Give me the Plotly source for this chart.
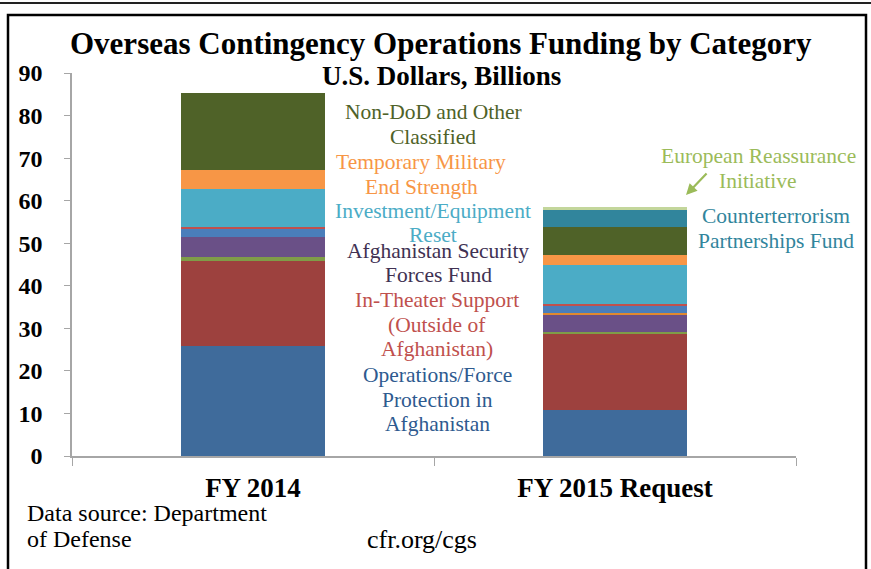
import plotly.graph_objects as go

categories = ["FY 2014", "FY 2015 Request"]

# Stack order bottom -> top
ops_force_protection = [25.9, 10.8]
in_theater_support = [20.0, 18.1]
other_green = [0.9, 0.3]
afghan_security_forces = [4.6, 4.1]
other_orange = [0.0, 0.3]
other_blue = [1.9, 1.6]
other_red = [0.5, 0.6]
investment_reset = [9.0, 9.2]
temporary_end_strength = [4.5, 2.3]
non_dod_classified = [17.9, 6.5]
counterterrorism_fund = [0.0, 3.9]
european_reassurance = [0.0, 0.8]

series = [
    ("Operations/Force Protection in Afghanistan", ops_force_protection, "#3F6B9B"),
    ("In-Theater Support (Outside of Afghanistan)", in_theater_support, "#9D413E"),
    ("Other (green)", other_green, "#7F9C48"),
    ("Afghanistan Security Forces Fund", afghan_security_forces, "#6A5087"),
    ("Other (orange)", other_orange, "#E0892F"),
    ("Other (blue)", other_blue, "#4A7EBB"),
    ("Other (red)", other_red, "#C0504D"),
    ("Investment/Equipment Reset", investment_reset, "#4BACC6"),
    ("Temporary Military End Strength", temporary_end_strength, "#F79646"),
    ("Non-DoD and Other Classified", non_dod_classified, "#4F6228"),
    ("Counterterrorism Partnerships Fund", counterterrorism_fund, "#31859C"),
    ("European Reassurance Initiative", european_reassurance, "#C3D69B"),
]

W, H = 871, 569
L, R, T, B = 72, 796, 73, 456

def px(x):
    return (x - L) / (R - L)

def py(y):
    return (B - y) / (B - T)

fig = go.Figure()
for name, vals, color in series:
    fig.add_trace(go.Bar(x=categories, y=vals, name=name,
                         marker=dict(color=color, line=dict(width=0)),
                         width=0.4))

serif = "Liberation Serif"
ann = []

def text(x, y, t, color, size=21.5, bold=False, xanchor="center", yanchor="middle"):
    ann.append(dict(x=px(x), y=py(y), xref="paper", yref="paper", text=t,
                    showarrow=False, xanchor=xanchor, yanchor=yanchor,
                    borderpad=0, borderwidth=0,
                    font=dict(family=serif, size=size, color=color,
                              weight="bold" if bold else "normal")))

def block(x, y0, lines, color, size=21.5, step=24.5):
    for i, ln in enumerate(lines):
        text(x, y0 + i * step, ln, color, size=size)

text(441, 43, "Overseas Contingency Operations Funding by Category", "#000000", size=31, bold=True)
text(441, 76, "U.S. Dollars, Billions", "#000000", size=27, bold=True)

block(433, 112, ["Non-DoD and Other", "Classified"], "#4F6228")
block(421, 162, ["Temporary Military", "End Strength"], "#F79646")
block(433, 211, ["Investment/Equipment", "Reset"], "#4BACC6", step=23.5)
block(438, 251, ["Afghanistan Security", "Forces Fund"], "#403152", step=23.5)
block(437, 300, ["In-Theater Support", "(Outside of", "Afghanistan)"], "#C0504D")
block(437, 375, ["Operations/Force", "Protection in", "Afghanistan"], "#2E5A8F")
block(758, 156, ["European Reassurance", "Initiative"], "#9BBB59")
block(776, 216, ["Counterterrorism", "Partnerships Fund"], "#31859C")

text(27, 513, "Data source: Department", "#000000", size=24, xanchor="left")
text(27, 539, "of Defense", "#000000", size=24, xanchor="left")
text(367, 539, "cfr.org/cgs", "#000000", size=26, xanchor="left")

# arrow for European Reassurance Initiative
ann.append(dict(x=px(686), y=py(195), xref="paper", yref="paper", text="",
                showarrow=True, ax=22, ay=-23, arrowcolor="#9BBB59",
                arrowwidth=2.2, arrowhead=2, arrowsize=1))

shapes = [
    dict(type="line", xref="paper", yref="paper", x0=px(0), x1=px(871), y0=py(3), y1=py(3),
         line=dict(color="#222222", width=2)),
    dict(type="rect", xref="paper", yref="paper", x0=px(8), x1=px(866), y0=py(15), y1=py(590),
         line=dict(color="#000000", width=2.5)),
]

fig.update_layout(
    width=W, height=H, barmode="stack", showlegend=False,
    margin=dict(l=L, r=W - R, t=T, b=H - B, pad=0, autoexpand=False),
    plot_bgcolor="white", paper_bgcolor="white",
    annotations=ann, shapes=shapes, bargap=0.6,
    font=dict(family=serif, color="#000000"),
)
fig.update_xaxes(showline=True, linecolor="#A6A6A6", linewidth=1.5, automargin=False,
                 ticks="outside", tickson="boundaries", ticklen=8, tickcolor="#A6A6A6",
                 tickfont=dict(family=serif, size=27, color="#000000", weight="bold"),
                 ticklabelstandoff=7, showgrid=False)
fig.update_yaxes(range=[0, 90], dtick=10, showline=True, linecolor="#A6A6A6", linewidth=1.5,
                 automargin=False,
                 ticks="outside", ticklen=6, tickcolor="#A6A6A6", showgrid=False, zeroline=False,
                 tickfont=dict(family=serif, size=24, color="#000000", weight="bold"),
                 ticklabelstandoff=17)

fig.write_html("out.html", config={"displayModeBar": False},
               post_script="document.body.style.margin='0';document.body.style.overflow='hidden';")
